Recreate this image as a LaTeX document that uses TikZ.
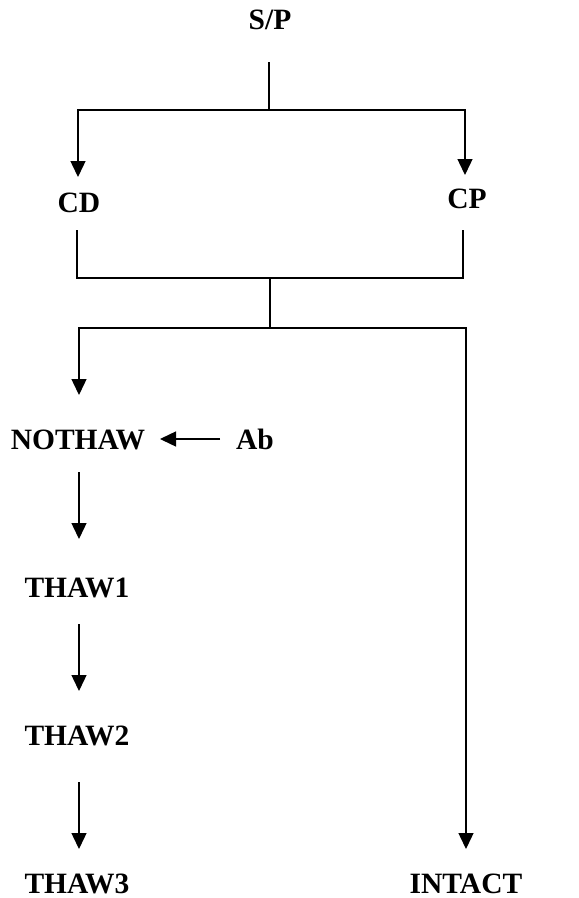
\documentclass[tikz,border=0pt]{standalone}
\usepackage{fontspec}
\setmainfont{Liberation Serif}
\usetikzlibrary{arrows.meta}

\begin{document}
\begin{tikzpicture}[x=1pt, y=-1pt, line width=1.4pt,
	every node/.style={font=\fontsize{29.5}{35}\selectfont\bfseries, inner sep=0pt, anchor=base},
	flow/.style={-{Triangle[width=15pt,length=16pt]}}]
\useasboundingbox (0,0) rectangle (579,898);

\node (sp) at (270,29) {S/P};
\node (cd) at (79,212) {CD};
\node (cp) at (467,208) {CP};
\node (nothaw) at (78,449) {NOTHAW};
\node (ab) at (255,449) {Ab};
\node (thaw1) at (77,597) {THAW1};
\node (thaw2) at (77,745) {THAW2};
\node (thaw3) at (77,893) {THAW3};
\node (intact) at (466,893) {INTACT};

% line ends and junctions
\coordinate (sp-out) at (269,62);
\coordinate (fork1) at (269,110);
\coordinate (cd-in) at (78,177);
\coordinate (cp-in) at (465,175);
\coordinate (cd-out) at (77,230);
\coordinate (cp-out) at (463,230);
\coordinate (join) at (270,278);
\coordinate (fork2) at (270,328);
\coordinate (nothaw-in) at (79,395);
\coordinate (intact-in) at (466,849);
\coordinate (ab-out) at (220,439);
\coordinate (nothaw-side) at (160,439);
\coordinate (nothaw-out) at (79,472);
\coordinate (thaw1-in) at (79,539);
\coordinate (thaw1-out) at (79,624);
\coordinate (thaw2-in) at (79,691);
\coordinate (thaw2-out) at (79,782);
\coordinate (thaw3-in) at (79,849);

\draw (sp-out) -- (fork1);
\draw[flow] (fork1) -| (cd-in);
\draw[flow] (fork1) -| (cp-in);

\draw (cd-out) |- (join) -| (cp-out);
\draw (join) -- (fork2);
\draw[flow] (fork2) -| (nothaw-in);
\draw[flow] (fork2) -| (intact-in);

\draw[flow] (ab-out) -- (nothaw-side);
\draw[flow] (nothaw-out) -- (thaw1-in);
\draw[flow] (thaw1-out) -- (thaw2-in);
\draw[flow] (thaw2-out) -- (thaw3-in);

\end{tikzpicture}
\end{document}
